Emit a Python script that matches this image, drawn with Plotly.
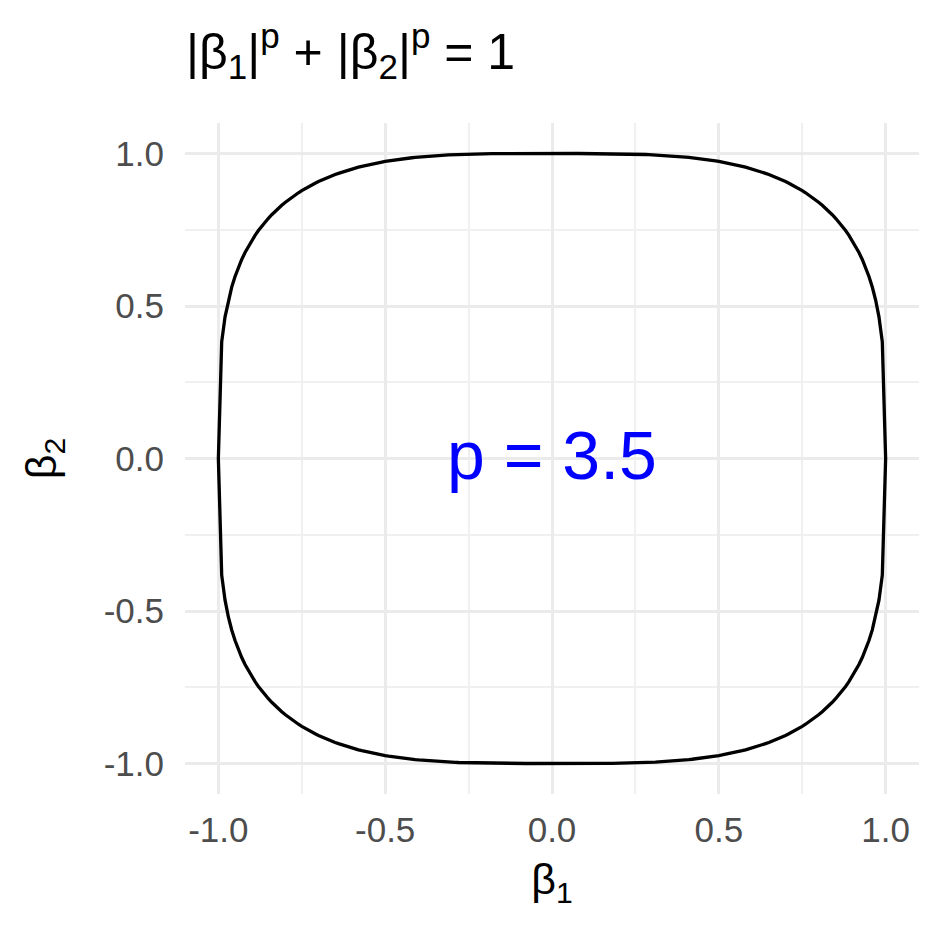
import numpy as np
import plotly.graph_objects as go

# ---- data ----
p_value = 3.5
beta1_grid = np.round(np.arange(-1.0, 1.0001, 0.01), 2)
tick_vals = [-1.0, -0.5, 0.0, 0.5, 1.0]
tick_text = ["-1.0", "-0.5", "0.0", "0.5", "1.0"]
minor_vals = [-0.75, -0.25, 0.25, 0.75]
title_text = "|β<sub>1</sub>|<sup>p</sup> + |β<sub>2</sub>|<sup>p</sup> = 1"
label_text = "p = 3.5"

# curve |b1|^p + |b2|^p = 1 (upper half then lower half)
upper = (1 - np.abs(beta1_grid) ** p_value) ** (1 / p_value)
xs = np.concatenate([beta1_grid, beta1_grid[::-1]])
ys = np.concatenate([upper, -upper[::-1]])

FONT = "Liberation Sans, Arial, Helvetica, sans-serif"

fig = go.Figure()
fig.add_trace(go.Scatter(x=xs, y=ys, mode="lines",
                         line=dict(color="black", width=3.3),
                         hoverinfo="skip", showlegend=False))

fig.add_annotation(x=0, y=0, xref="x", yref="y", text=label_text,
                   showarrow=False, font=dict(family=FONT, size=68, color="#0000FF"),
                   xanchor="center", yanchor="middle", yshift=4)

axis_common = dict(
    showline=False, zeroline=False,
    showgrid=True, gridcolor="#EBEBEB", gridwidth=2.8,
    tickvals=tick_vals, ticktext=tick_text,
    tickfont=dict(family=FONT, size=35, color="#4D4D4D"),
    ticks="",
    minor=dict(tickvals=minor_vals, showgrid=True, gridcolor="#F0F0F0", gridwidth=1.5),
)

fig.update_layout(
    width=944, height=944,
    paper_bgcolor="white", plot_bgcolor="white",
    margin=dict(l=177, r=33, t=115, b=158),
    title=dict(text=title_text, x=178/944, xref="container", xanchor="left",
               y=1-43/944, yref="container", yanchor="middle",
               font=dict(family=FONT, size=50, color="black")),
    xaxis=dict(range=[-1.1, 1.1], title=dict(text="β<sub>1</sub>", standoff=15,
               font=dict(family=FONT, size=43, color="black")),
               ticklabelstandoff=12, **axis_common),
    yaxis=dict(range=[-1.1, 1.1], title=dict(text="β<sub>2</sub>", standoff=33,
               font=dict(family=FONT, size=43, color="black")),
               ticklabelstandoff=20, **axis_common),
    showlegend=False,
)

fig.write_html("out.html")
